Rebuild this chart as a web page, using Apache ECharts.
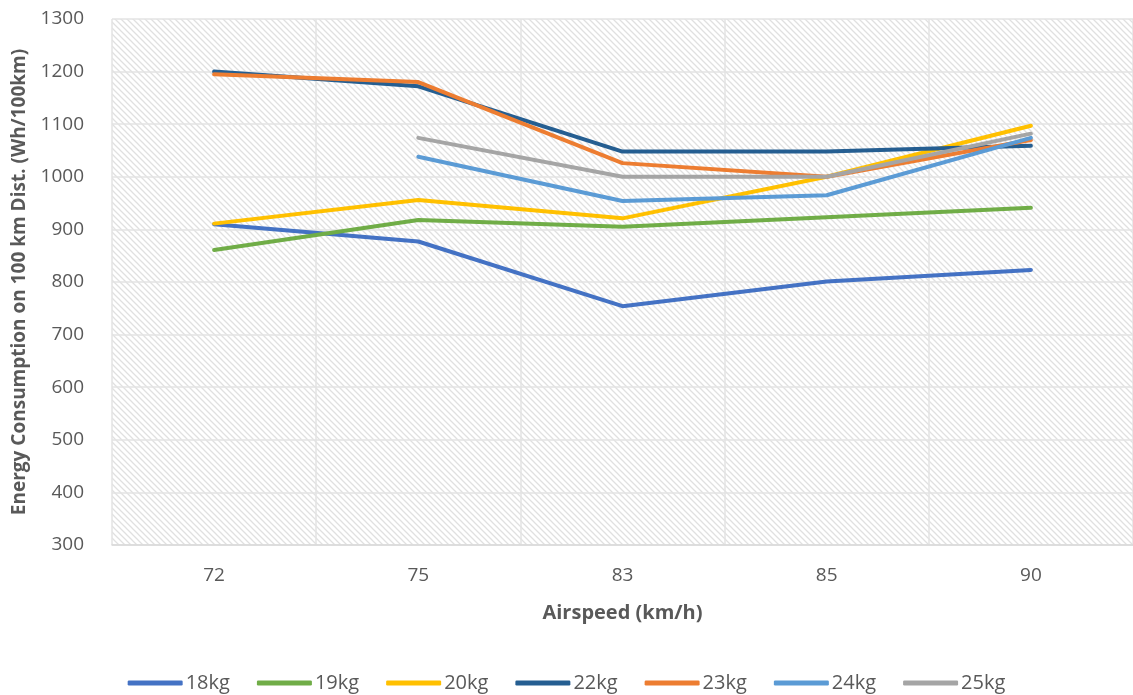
<!DOCTYPE html>
<html>
<head>
<meta charset="utf-8">
<script src="https://cdn.jsdelivr.net/npm/echarts@6/dist/echarts.min.js"></script>
<style>
  html, body { margin: 0; padding: 0; background: #fff; }
  #chart { width: 1133px; height: 695px; }
</style>
</head>
<body>
<div id="chart"></div>
<script>
// Airspeed categories (km/h)
const airspeeds = ['72', '75', '83', '85', '90'];

// Energy consumption per 100 km (Wh/100km) for each payload mass
const mass18 = [910, 877, 754, 801, 823];
const mass19 = [861, 918, 905, 923, 941];
const mass20 = [911, 956, 921, 1000, 1097];
const mass22 = [1200, 1172, 1048, 1048, 1059];
const mass23 = [1195, 1180, 1026, 1000, 1070];
const mass24 = [null, 1038, 954, 965, 1074];
const mass25 = [null, 1074, 1000, 1000, 1082];

const seriesNames = ['18kg', '19kg', '20kg', '22kg', '23kg', '24kg', '25kg'];
const seriesData = [mass18, mass19, mass20, mass22, mass23, mass24, mass25];
const seriesColors = ['#4472C4', '#70AD47', '#FFC000', '#255E91', '#ED7D31', '#5B9BD5', '#A5A5A5'];

// Diagonal hatch used as plot-area fill
function makeHatch() {
  const size = 6;
  const c = document.createElement('canvas');
  c.width = size; c.height = size;
  const ctx = c.getContext('2d');
  ctx.fillStyle = '#ffffff';
  ctx.fillRect(0, 0, size, size);
  ctx.strokeStyle = '#e0e0e0';
  ctx.lineWidth = 1.3;
  ctx.beginPath();
  ctx.moveTo(-1, -1); ctx.lineTo(size + 1, size + 1);
  ctx.moveTo(-1, size - 1); ctx.lineTo(1, size + 1);
  ctx.moveTo(size - 1, -1); ctx.lineTo(size + 1, 1);
  ctx.stroke();
  return c;
}

const chart = echarts.init(document.getElementById('chart'), null, { renderer: 'canvas' });
const font = '"Open Sans", "Noto Sans", sans-serif';

chart.setOption({
  animation: false,
  backgroundColor: '#ffffff',
  grid: {
    show: true,
    left: 112, right: 0, top: 19, bottom: 150,
    backgroundColor: { image: makeHatch(), repeat: 'repeat' },
    borderWidth: 0
  },
  legend: {
    left: 'center',
    top: 668,
    itemWidth: 55,
    itemHeight: 5,
    itemGap: 27,
    icon: 'roundRect',
    textStyle: { fontFamily: font, fontSize: 20, color: '#595959', padding: [0, 0, 0, -2] },
    data: seriesNames
  },
  xAxis: {
    type: 'category',
    data: airspeeds,
    boundaryGap: true,
    name: 'Airspeed (km/h)',
    nameLocation: 'middle',
    nameGap: 58,
    nameTextStyle: { fontFamily: font, fontSize: 20, fontWeight: 'bold', color: '#595959' },
    axisLine: { show: true, lineStyle: { color: '#d9d9d9', width: 1.5 } },
    axisTick: { show: false },
    axisLabel: { fontFamily: font, fontSize: 19, color: '#595959', margin: 21 },
    splitLine: { show: true, lineStyle: { color: '#e3e3e3', width: 1.5 } }
  },
  yAxis: {
    type: 'value',
    min: 300, max: 1300, interval: 100,
    name: 'Energy Consumption on 100 km Dist. (Wh/100km)',
    nameLocation: 'middle',
    nameGap: 83,
    nameTextStyle: { fontFamily: font, fontSize: 19, fontWeight: 'bold', color: '#595959' },
    axisLine: { show: false },
    axisTick: { show: false },
    axisLabel: { fontFamily: font, fontSize: 19, color: '#595959', margin: 28, formatter: v => String(v) },
    splitLine: { show: true, lineStyle: { color: '#e3e3e3', width: 1.5 } }
  },
  series: seriesNames.map((name, i) => ({
    name: name,
    type: 'line',
    data: seriesData[i],
    symbol: 'none',
    connectNulls: false,
    lineStyle: { color: seriesColors[i], width: 4, cap: 'round', join: 'round' },
    itemStyle: { color: seriesColors[i] }
  }))
});
</script>
</body>
</html>
